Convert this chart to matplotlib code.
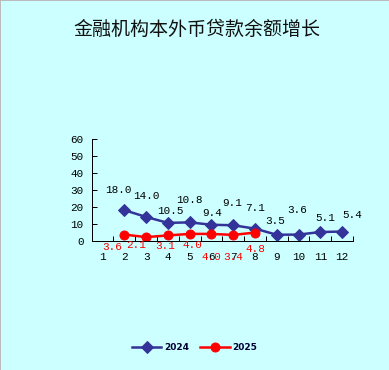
import numpy as np
import matplotlib.pyplot as plt

# -----------------------------
# Datos
# -----------------------------
months = ['1', '2', '3', '4', '5', '6', '7', '8', '9', '10', '11', '12']
x_2024 = [2, 3, 4, 5, 6, 7, 8, 9, 10, 11, 12]
v_2024 = [18.0, 14.0, 10.5, 10.8, 9.4, 9.1, 7.1, 3.5, 3.6, 5.1, 5.4]
x_2025 = [2, 3, 4, 5, 6, 7, 8]
v_2025 = [3.6, 2.1, 3.1, 4.0, 4.0, 3.4, 4.8]

# desplazamiento de etiquetas (px) como en el original
off_2024 = [(-6, 20), (0, 21), (2, 12), (0, 22), (1, 12), (-1, 22),
            (0, 21), (-2, 14), (-1, 25), (5, 14), (10, 17)]
off_2025 = [(-12, -12), (-10, -8), (-3, -11), (3, -11), (0, -23), (0, -22),
            (0, -16)]

bg = '#CCFFFF'
num_font = 'Liberation Mono'

fig = plt.figure(figsize=(389 / 72, 370 / 72), dpi=72, facecolor=bg)
fig.patch.set_edgecolor('#BBBBBB')
fig.patch.set_linewidth(1)
ax = fig.add_axes([0.2357, 0.3495, 0.6718, 0.2749], facecolor=bg)

l1, = ax.plot(x_2024, v_2024, color='#333399', lw=2.5, marker='D',
              ms=8, label='2024')
l2, = ax.plot(x_2025, v_2025, color='#FF0000', lw=2.5, marker='o',
              ms=9, label='2025')

for x, v, (dx, dy) in zip(x_2024, v_2024, off_2024):
    ax.annotate(f'{v:.1f}', (x, v), xytext=(dx, dy), textcoords='offset points',
                ha='center', va='center', fontsize=11, family=num_font,
                color='black')
for x, v, (dx, dy) in zip(x_2025, v_2025, off_2025):
    ax.annotate(f'{v:.1f}', (x, v), xytext=(dx, dy), textcoords='offset points',
                ha='center', va='center', fontsize=11, family=num_font,
                color='#FF0000')

# -----------------------------
# Ejes
# -----------------------------
ax.set_xlim(0.5, 12.5)
ax.set_ylim(0, 60)
ax.set_yticks(np.arange(0, 61, 10))
ax.set_xticks(np.arange(1, 13))
ax.set_xticklabels(months)
ax.set_xticks(np.arange(0.5, 12.6, 1), minor=True)
ax.tick_params(axis='x', which='major', length=0, pad=11)
ax.tick_params(axis='x', which='minor', direction='in', length=5, width=1)
ax.tick_params(axis='y', direction='in', length=5, width=1, pad=8)
for lab in ax.get_xticklabels() + ax.get_yticklabels():
    lab.set_family(num_font)
    lab.set_fontsize(11)
for s in ['top', 'right']:
    ax.spines[s].set_visible(False)
for s in ['left', 'bottom']:
    ax.spines[s].set_linewidth(1)

# -----------------------------
# Título y leyenda
# -----------------------------
fig.text(196.5 / 389, 1 - 29 / 370, '金融机构本外币贷款余额增长',
         ha='center', va='center', fontsize=19,
         family=['Noto Sans CJK SC', 'DejaVu Sans'], color='#111111')

leg = fig.legend(handles=[l1, l2], loc='center', bbox_to_anchor=(0.5, 1 - 348 / 370),
                 ncol=2, frameon=False, fontsize=9, handlelength=3.3,
                 columnspacing=1.2, handletextpad=0.3,
                 prop={'family': 'DejaVu Sans', 'weight': 'bold', 'size': 9})
for t in leg.get_texts():
    t.set_color('#000033')

fig.savefig('out.png', dpi=72, facecolor=bg, edgecolor=fig.patch.get_edgecolor())
